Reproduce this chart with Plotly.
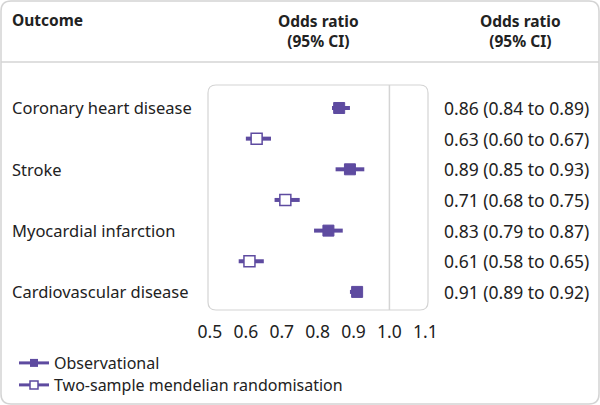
import plotly.graph_objects as go

outcomes = ["Coronary heart disease", "Stroke", "Myocardial infarction", "Cardiovascular disease"]
obs_or = [0.86, 0.89, 0.83, 0.91]
obs_lo = [0.84, 0.85, 0.79, 0.89]
obs_hi = [0.89, 0.93, 0.87, 0.92]
mr_or = [0.63, 0.71, 0.61]
mr_lo = [0.60, 0.68, 0.58]
mr_hi = [0.67, 0.75, 0.65]
tick_vals = [0.5, 0.6, 0.7, 0.8, 0.9, 1.0, 1.1]
tick_text = ["0.5", "0.6", "0.7", "0.8", "0.9", "1.0", "1.1"]

PURPLE = "#5e4ba0"
GREY = "#d4d4d4"
TXT = "#222222"
FONT = "Noto Sans"

W, H = 600, 405
L, R, T, B = 208, 428, 85, 310


def px(p):
    return (p - L) / (R - L)


def py(p):
    return (B - p) / (B - T)


# row positions: observational rows at 0,2,4,6 ; MR rows at 1,3,5
obs_y = [2 * i for i in range(len(obs_or))]
mr_y = [2 * i + 1 for i in range(len(mr_or))]

fig = go.Figure()


def ci_lines(lo, hi, ys):
    xs, yy = [], []
    for a, b, y in zip(lo, hi, ys):
        xs += [a, b, None]
        yy += [y, y, None]
    return xs, yy


x1, y1 = ci_lines(obs_lo, obs_hi, obs_y)
fig.add_trace(go.Scatter(x=x1, y=y1, mode="lines", line=dict(color=PURPLE, width=4),
                         showlegend=False, hoverinfo="skip"))
x2, y2 = ci_lines(mr_lo, mr_hi, mr_y)
fig.add_trace(go.Scatter(x=x2, y=y2, mode="lines", line=dict(color=PURPLE, width=4),
                         showlegend=False, hoverinfo="skip"))
fig.add_trace(go.Scatter(x=obs_or, y=obs_y, mode="markers",
                         marker=dict(symbol="square", size=11, color=PURPLE,
                                     line=dict(color=PURPLE, width=1)),
                         showlegend=False))
fig.add_trace(go.Scatter(x=mr_or, y=mr_y, mode="markers",
                         marker=dict(symbol="square", size=11, color="white",
                                     line=dict(color=PURPLE, width=1.5)),
                         showlegend=False))
# legend entries (one legend each so the rows can sit close together)
fig.add_trace(go.Scatter(x=[None], y=[None], mode="lines+markers", name="Observational",
                         line=dict(color=PURPLE, width=3), legend="legend",
                         marker=dict(symbol="square", size=8, color=PURPLE)))
fig.add_trace(go.Scatter(x=[None], y=[None], mode="lines+markers",
                         name="Two-sample mendelian randomisation",
                         line=dict(color=PURPLE, width=3), legend="legend2",
                         marker=dict(symbol="square", size=8, color="white",
                                     line=dict(color=PURPLE, width=1.5))))

annotations = []
# header
annotations.append(dict(text="<b>Outcome</b>", x=px(10), y=py(20), xref="paper", yref="paper",
                        xanchor="left", yanchor="middle", showarrow=False,
                        font=dict(size=15.5, color=TXT, family=FONT)))
for cx in (318, 520):
    annotations.append(dict(text="<b>Odds ratio<br>(95% CI)</b>", x=px(cx), y=py(31),
                            xref="paper", yref="paper",
                            xanchor="center", yanchor="middle", showarrow=False,
                            font=dict(size=15.5, color=TXT, family=FONT)))
# outcome labels
for name, y in zip(outcomes, obs_y):
    annotations.append(dict(text=name, x=px(10), y=y, xref="paper", yref="y",
                            xanchor="left", yanchor="middle", showarrow=False,
                            font=dict(size=16.5, color=TXT, family=FONT)))
# right-hand text
rows = []
for v, lo, hi, y in zip(obs_or, obs_lo, obs_hi, obs_y):
    rows.append((y, v, lo, hi))
for v, lo, hi, y in zip(mr_or, mr_lo, mr_hi, mr_y):
    rows.append((y, v, lo, hi))
for y, v, lo, hi in rows:
    annotations.append(dict(text=f"{v:.2f} ({lo:.2f} to {hi:.2f})", x=px(442), y=y,
                            xref="paper", yref="y", xanchor="left", yanchor="middle",
                            showarrow=False, font=dict(size=17.5, color=TXT, family=FONT)))


def rrect(x0, y0, x1, y1, r):
    # pixel coords -> paper path with rounded corners
    rx = r / (R - L)
    ry = r / (B - T)
    X0, X1 = px(x0), px(x1)
    Y0, Y1 = py(y1), py(y0)  # bottom, top in paper
    return (f"M {X0+rx},{Y0} L {X1-rx},{Y0} Q {X1},{Y0} {X1},{Y0+ry} "
            f"L {X1},{Y1-ry} Q {X1},{Y1} {X1-rx},{Y1} L {X0+rx},{Y1} "
            f"Q {X0},{Y1} {X0},{Y1-ry} L {X0},{Y0+ry} Q {X0},{Y0} {X0+rx},{Y0} Z")


shapes = [
    dict(type="path", path=rrect(1, 1, 599, 404, 10), xref="paper", yref="paper",
         line=dict(color=GREY, width=1.5), layer="below"),
    dict(type="line", x0=px(1), x1=px(599), y0=py(62), y1=py(62), xref="paper", yref="paper",
         line=dict(color=GREY, width=1.5)),
    dict(type="path", path=rrect(L, T, R, B, 8), xref="paper", yref="paper",
         line=dict(color=GREY, width=1.2), layer="below"),
    dict(type="line", x0=1.0, x1=1.0, y0=0, y1=1, xref="x", yref="paper",
         line=dict(color=GREY, width=1.5), layer="below"),
]

legend_font = dict(size=16, color=TXT, family=FONT)
fig.update_layout(
    width=W, height=H,
    margin=dict(l=L, r=W - R, t=T, b=H - B, autoexpand=False),
    paper_bgcolor="white", plot_bgcolor="white",
    font=dict(family=FONT, size=16, color=TXT),
    xaxis=dict(range=[0.4945, 1.1075], tickvals=tick_vals, ticktext=tick_text,
               showgrid=False, zeroline=False, showline=False,
               ticks="outside", ticklen=6, tickcolor="rgba(0,0,0,0)",
               tickfont=dict(size=17.5, color=TXT, family=FONT), fixedrange=True),
    yaxis=dict(range=[6.59, -0.75], showgrid=False, zeroline=False, showline=False,
               showticklabels=False, fixedrange=True),
    legend=dict(x=px(14), y=py(363), xanchor="left", yanchor="middle",
                font=legend_font, bgcolor="rgba(0,0,0,0)", borderwidth=0),
    legend2=dict(x=px(14), y=py(385), xanchor="left", yanchor="middle",
                 font=legend_font, bgcolor="rgba(0,0,0,0)", borderwidth=0),
    annotations=annotations,
    shapes=shapes,
)

fig.write_html("out.html", config={"displayModeBar": False},
               post_script="document.body.style.margin='0';")
